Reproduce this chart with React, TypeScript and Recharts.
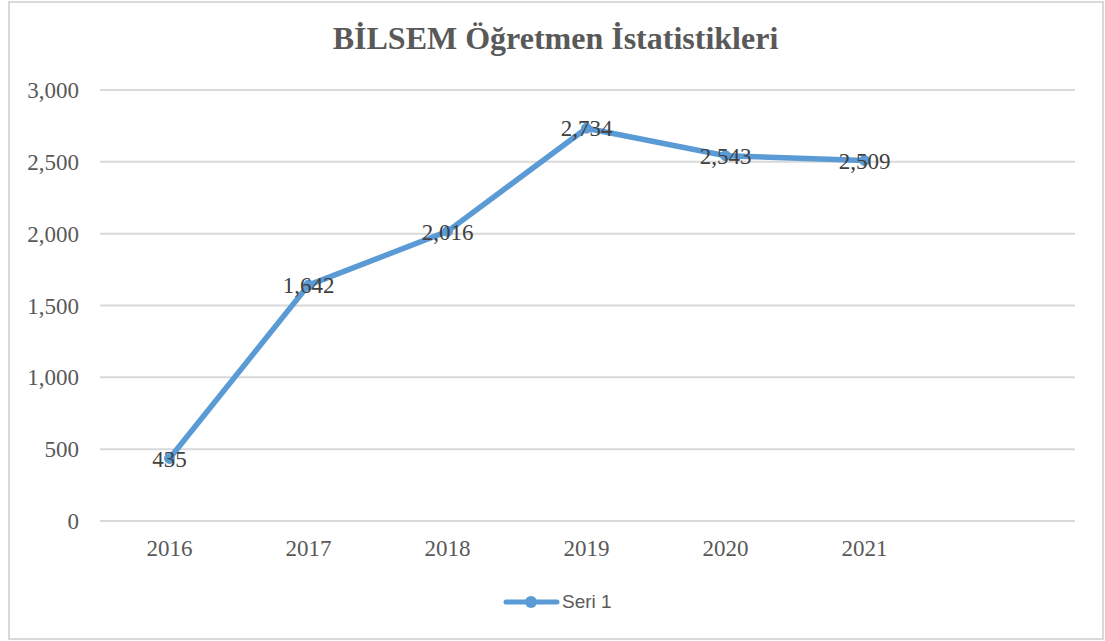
import React from 'react';
import { LineChart, Line, XAxis, YAxis, CartesianGrid, Legend, LabelList } from 'recharts';

const years = ['2016', '2017', '2018', '2019', '2020', '2021'];
const teachers = [435, 1642, 2016, 2734, 2543, 2509];
const yTicks = [0, 500, 1000, 1500, 2000, 2500, 3000];
const seriesName = 'Seri 1';
const title = 'BİLSEM Öğretmen İstatistikleri';

const data = years.map((year, i) => ({ year, value: teachers[i] }));

const BLUE = '#5B9BD5';
const serif = '"Liberation Serif", "Times New Roman", serif';
const fmt = (v: number) => v.toLocaleString('en-US');

const LegendBox = () => (
  <div style={{ height: 80, position: 'relative' }}>
    <div
      style={{
        position: 'absolute',
        left: 503,
        top: 29,
        display: 'flex',
        alignItems: 'center',
        height: 24,
      }}
    >
      <svg width={57} height={24}>
        <line x1={3} y1={12} x2={54} y2={12} stroke={BLUE} strokeWidth={5} strokeLinecap="round" />
        <circle cx={28} cy={12} r={6} fill={BLUE} />
      </svg>
      <span
        style={{
          fontFamily: '"Liberation Sans", Arial, sans-serif',
          fontSize: 19,
          color: '#595959',
          marginLeft: 2,
        }}
      >
        {seriesName}
      </span>
    </div>
  </div>
);

export default function App() {
  return (
    <div style={{ position: 'absolute', left: 0, top: 0, width: 1105, height: 641, background: '#fff' }}>
      <div
        style={{
          position: 'absolute',
          left: 8,
          top: 1,
          width: 1096,
          height: 639,
          border: '2px solid #d9d9d9',
          boxSizing: 'border-box',
        }}
      />
      <div
        style={{
          position: 'absolute',
          left: 0,
          top: 20,
          width: 1111,
          textAlign: 'center',
          fontFamily: serif,
          fontWeight: 'bold',
          fontSize: 32,
          color: '#595959',
          lineHeight: '36px',
        }}
      >
        {title}
      </div>
      <div style={{ position: 'absolute', left: 0, top: 0 }}>
        <LineChart width={1105} height={641} data={data} margin={{ top: 90, right: 30, bottom: 0, left: 0 }}>
          <CartesianGrid vertical={false} stroke="#d9d9d9" strokeWidth={2} />
          <XAxis
            dataKey="year"
            height={40}
            padding={{ left: 69.5, right: 210.5 }}
            axisLine={false}
            tickLine={false}
            tickSize={0}
            tickMargin={19}
            tick={{ fill: '#595959', fontSize: 23, fontFamily: serif }}
            interval={0}
          />
          <YAxis
            width={100}
            domain={[0, 3000]}
            ticks={yTicks}
            axisLine={false}
            tickLine={false}
            tickSize={0}
            tickMargin={21}
            tickFormatter={fmt}
            tick={{ fill: '#595959', fontSize: 23, fontFamily: serif }}
          />
          <Legend verticalAlign="bottom" height={80} content={() => <LegendBox />} />
          <Line
            dataKey="value"
            name={seriesName}
            stroke={BLUE}
            strokeWidth={5.5}
            dot={{ r: 5, fill: BLUE, stroke: BLUE, strokeWidth: 1 }}
            isAnimationActive={false}
          >
            <LabelList
              dataKey="value"
              position="center"
              formatter={(v: any) => fmt(Number(v))}
              style={{ fill: '#404040', fontSize: 23, fontFamily: serif }}
            />
          </Line>
        </LineChart>
      </div>
    </div>
  );
}
